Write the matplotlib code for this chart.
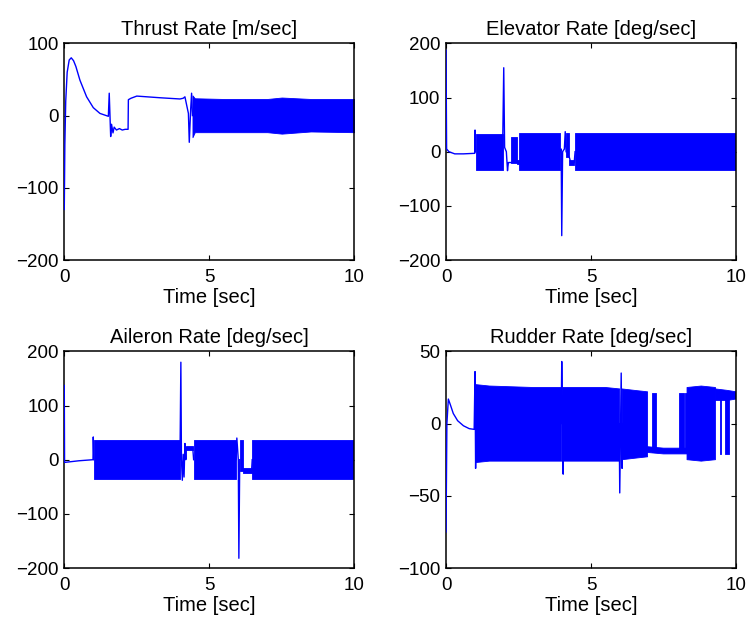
import numpy as np
import matplotlib
matplotlib.use("Agg")
import matplotlib.pyplot as plt

plt.rcParams['font.family'] = ['Liberation Sans', 'DejaVu Sans']

nan = None

# ---- Thrust rate: smooth trace + chatter band ----
thrust_t = [0, 0.02, 0.05, 0.1, 0.17, 0.24, 0.32, 0.4, 0.54, 0.77, 1.0, 1.23, 1.52,
            1.55, 1.6, 1.63, 1.68, 1.72, 1.8, 1.9, 2.0, 2.1, 2.2, 2.21, 2.3, 2.5,
            3.3, 3.99, 4.1, 4.16, 4.28, 4.31, 4.36, 4.39, 4.42]
thrust_y = [-130, -40, 20, 60, 77, 80, 76, 68, 49, 26, 11, 3, -1,
            31, -29, -12, -24, -16, -20, -18, -20, -19, -19, 22, 24, 27,
            24.7, 23, 24, 26, 3, -37, 10, 31, 0]
thrust_band_t = [4.42, 4.5, 5.5, 7.0, 7.5, 8.5, 10]
thrust_band_lo = [-30, -23, -23, -23, -25, -22, -23]
thrust_band_hi = [28, 24, 23, 23, 25, 23, 23]

# ---- Elevator rate ----
elev_t = [0, 0.02, 0.1, 0.3, 0.6, 0.99, 1.0, 1.02, nan,
          1.95, 1.99, 2.02, 2.08, 2.12, 2.15, 2.25, nan,
          2.45, 2.53, nan,
          3.93, 3.97, 3.99, 4.02, 4.08, 4.11, 4.14, nan,
          4.25, 4.3, 4.42, 4.45]
elev_y = [187, 5, 0, -4, -4, -3, 40, 0, nan,
          0, 155, 8, 0, -35, -20, -20, nan,
          -18, -18, nan,
          0, 5, -155, 0, 5, 37, 0, nan,
          -10, -20, -20, 0]
elev_band_t = [1.02, 1.95, nan, 2.25, 2.45, nan, 2.45, 2.53, nan, 2.53, 3.93, nan,
               4.14, 4.25, nan, 4.25, 4.42, nan, 4.45, 10]
elev_band_lo = [-34, -34, nan, -20, -20, nan, -22, -22, nan, -34, -34, nan,
                -10, -10, nan, -24, -24, nan, -34, -34]
elev_band_hi = [33, 33, nan, 28, 28, nan, -15, -15, nan, 34, 34, nan,
                35, 35, nan, -16, -16, nan, 34, 34]

# ---- Aileron rate ----
ail_t = [0, 0.01, 0.5, 0.99, 1.0, 1.02, nan,
         3.99, 4.02, 4.04, 4.07, 4.1, 4.13, 4.16, 4.19, 4.21, nan,
         4.43, 4.46, nan,
         5.92, 5.95, 6.0, 6.02, 6.05, nan,
         6.17, 6.2, nan, 6.46, 6.48]
ail_y = [137, -5, -2, 0, 42, 0, nan,
         0, 180, 0, -38, 10, -32, 30, 0, 22, nan,
         22, 0, nan,
         0, 40, 0, -182, 0, nan,
         -19, -19, nan, -19, 0]
ail_band_t = [1.02, 3.99, nan, 4.21, 4.43, nan, 4.46, 5.92, nan,
              6.05, 6.17, nan, 6.17, 6.46, nan, 6.48, 10]
ail_band_lo = [-35, -35, nan, 17, 17, nan, -35, -35, nan,
               -20, -20, nan, -24, -24, nan, -35, -35]
ail_band_hi = [36, 36, nan, 26, 26, nan, 36, 36, nan,
               36, 36, nan, -15, -15, nan, 36, 36]

# ---- Rudder rate ----
rud_t = [0, 0.03, 0.08, 0.15, 0.25, 0.4, 0.6, 0.8, 0.97, 1.0, 1.02, 1.04, nan,
         3.97, 3.99, 4.04, 4.05, nan,
         5.97, 5.99, 6.04, 6.07, 6.08]
rud_y = [-75, 0, 17, 13, 7, 2, -1.5, -3.5, -4, 36, -31, 0, nan,
         0, 43, -35, 0, nan,
         0, -48, 35, -31, 0]
rud_band_t = [1.02, 1.5, 3.0, 3.99, nan,
              4.03, 5.5, 5.99, nan,
              6.07, 6.5, 6.95, nan,
              6.95, 7.5, 8.31, nan,
              7.11, 7.23, nan, 8.05, 8.19, nan, 8.25, 8.31, nan,
              8.31, 8.8, 9.29, nan,
              9.29, 9.7, 10, nan,
              9.43, 9.48, nan, 9.63, 9.76]
rud_band_lo = [-27, -26, -26, -26, nan,
               -26, -26, -26, nan,
               -25, -24, -23, nan,
               -20, -21, -21, nan,
               -20, -20, nan, -20, -20, nan, -20, -20, nan,
               -25, -26, -25, nan,
               16, 16, 17, nan,
               -21, -21, nan, -21, -21]
rud_band_hi = [27, 26, 25, 25, nan,
               25, 25, 24, nan,
               24, 23, 22, nan,
               -16, -17, -17, nan,
               21, 21, nan, 21, 21, nan, 21, 21, nan,
               25, 26, 25, nan,
               24, 23, 22, nan,
               20, 20, nan, 20, 20]

BLUE = "#0000ff"


def arr(v):
    return np.array([np.nan if x is None else x for x in v], dtype=float)


def panel(ax, title, tt, ty, bt, blo, bhi, ylim, yticks):
    ax.fill_between(arr(bt), arr(blo), arr(bhi), color=BLUE, lw=0.6,
                    edgecolor=BLUE, zorder=2)
    ax.plot(arr(tt), arr(ty), color=BLUE, lw=1.0, zorder=3)
    ax.set_xlim(0, 10)
    ax.set_ylim(*ylim)
    ax.set_xticks([0, 5, 10])
    ax.set_yticks(yticks)
    ax.tick_params(direction='in', top=True, right=True, length=3.6,
                   width=0.8, labelsize=13.5)
    ax.tick_params(axis='x', pad=6.5)
    ax.tick_params(axis='y', pad=4)
    for s in ax.spines.values():
        s.set_linewidth(1.1)
    ax.set_title(title, fontsize=14.5, pad=6)
    ax.set_xlabel("Time [sec]", fontsize=14.5, labelpad=1.5)


fig = plt.figure(figsize=(7.5, 6.24), dpi=100)
w, h = 0.3867, 0.3472
ax1 = fig.add_axes([0.0857, 0.5833, w, h])
ax2 = fig.add_axes([0.5947, 0.5833, w, h])
ax3 = fig.add_axes([0.0857, 0.0897, w, h])
ax4 = fig.add_axes([0.5947, 0.0897, w, h])

panel(ax1, "Thrust Rate [m/sec]", thrust_t, thrust_y, thrust_band_t,
      thrust_band_lo, thrust_band_hi, (-200, 100), [-200, -100, 0, 100])
panel(ax2, "Elevator Rate [deg/sec]", elev_t, elev_y, elev_band_t,
      elev_band_lo, elev_band_hi, (-200, 200), [-200, -100, 0, 100, 200])
panel(ax3, "Aileron Rate [deg/sec]", ail_t, ail_y, ail_band_t,
      ail_band_lo, ail_band_hi, (-200, 200), [-200, -100, 0, 100, 200])
panel(ax4, "Rudder Rate [deg/sec]", rud_t, rud_y, rud_band_t,
      rud_band_lo, rud_band_hi, (-100, 50), [-100, -50, 0, 50])

fig.savefig("out.png", dpi=100)
